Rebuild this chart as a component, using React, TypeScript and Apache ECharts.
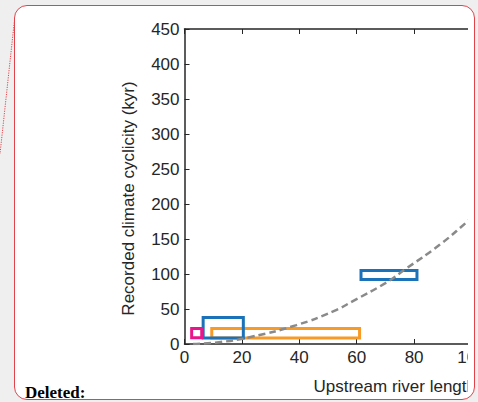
import React, { useEffect, useRef } from "react";
import * as echarts from "echarts";

// Axis settings
const xMin = 0;
const xMax = 160;
const xStep = 20;
const yMin = 0;
const yMax = 450;
const yStep = 50;

// Rectangles (range boxes)
const boxXStart = [9.5, 6.5, 2.5, 61.5];
const boxXEnd = [61, 20.5, 6, 81];
const boxYStart = [8.5, 8.5, 9, 92];
const boxYEnd = [22, 38, 22, 105];
const boxColors = ["#f89a26", "#1c72b8", "#e8168b", "#1c72b8"];

// Dashed trend curve
const curveX = [3, 12, 23, 39, 52, 59, 70, 77, 89, 98, 106];
const curveY = [0, 2.5, 10, 27, 47, 62, 87, 107, 142, 173, 202];

const xName = "Upstream river length (km)";
const yName = "Recorded climate cyclicity (kyr)";

const FONT = "'Liberation Sans', Arial, sans-serif";
const AXIS = "#262626";

function Chart() {
  const ref = useRef<HTMLDivElement>(null);
  useEffect(() => {
    if (!ref.current) return;
    const chart = echarts.init(ref.current, null, { renderer: "svg" });
    const boxData = boxXStart.map((x0, i) => [x0, boxXEnd[i], boxYStart[i], boxYEnd[i], i]);
    const curveData = curveX.map((x, i) => [x, curveY[i]]);
    const plotW = 2.87 * (xMax - xMin);
    chart.setOption({
      animation: false,
      grid: { left: 184.5, top: 29, width: plotW, height: 315, containLabel: false },
      xAxis: [
        {
          type: "value",
          min: xMin,
          max: xMax,
          interval: xStep,
          position: "bottom",
          name: xName,
          nameLocation: "middle",
          nameGap: 34,
          nameTextStyle: { fontSize: 17, fontFamily: FONT, color: AXIS },
          axisLine: { show: true, onZero: false, lineStyle: { color: AXIS, width: 1.5 } },
          axisTick: { show: true, inside: true, length: 5, lineStyle: { color: AXIS, width: 1 } },
          axisLabel: { show: true, margin: 5, fontSize: 17, fontFamily: FONT, color: AXIS },
          splitLine: { show: false },
        },
        {
          type: "value",
          min: xMin,
          max: xMax,
          interval: xStep,
          position: "top",
          axisLine: { show: true, onZero: false, lineStyle: { color: AXIS, width: 1.5 } },
          axisTick: { show: true, inside: true, length: 5, lineStyle: { color: AXIS, width: 1 } },
          axisLabel: { show: false },
          splitLine: { show: false },
        },
      ],
      yAxis: {
        type: "value",
        min: yMin,
        max: yMax,
        interval: yStep,
        name: yName,
        nameLocation: "middle",
        nameGap: 48,
        nameTextStyle: { fontSize: 17, fontFamily: FONT, color: AXIS, padding: [0, 24, 0, 0] },
        axisLine: { show: true, onZero: false, lineStyle: { color: AXIS, width: 1.5 } },
        axisTick: { show: true, inside: true, length: 5, lineStyle: { color: AXIS, width: 1 } },
        axisLabel: { show: true, margin: 5, fontSize: 17, fontFamily: FONT, color: AXIS },
        splitLine: { show: false },
      },
      series: [
        {
          type: "custom",
          xAxisIndex: 0,
          data: boxData,
          encode: { x: [0, 1], y: [2, 3] },
          z: 2,
          renderItem: (params: any, api: any) => {
            const p0 = api.coord([api.value(0), api.value(3)]);
            const p1 = api.coord([api.value(1), api.value(2)]);
            const idx = api.value(4);
            return {
              type: "rect",
              shape: { x: p0[0], y: p0[1], width: p1[0] - p0[0], height: p1[1] - p0[1] },
              style: { fill: "none", stroke: boxColors[idx], lineWidth: 3 },
            };
          },
        },
        {
          type: "line",
          xAxisIndex: 0,
          data: curveData,
          smooth: true,
          symbol: "none",
          z: 3,
          lineStyle: { color: "#8a8a8a", width: 2.5, type: [7, 4] },
        },
      ],
    });
    return () => chart.dispose();
  }, []);
  return <div ref={ref} style={{ width: 700, height: 402 }} />;
}

export default function App() {
  return (
    <div
      style={{
        position: "fixed",
        left: 0,
        top: 0,
        width: 478,
        height: 402,
        background: "#efefef",
        overflow: "hidden",
      }}
    >
      <svg width={478} height={402} style={{ position: "absolute", left: 0, top: 0 }}>
        <line x1={14.5} y1={20} x2={0} y2={154} stroke="#e2434b" strokeWidth={1} strokeDasharray="1.2,1.2" />
      </svg>
      <div
        style={{
          position: "absolute",
          left: 14,
          top: 5,
          width: 461,
          height: 395,
          boxSizing: "border-box",
          border: "1.5px solid #e2434b",
          borderRadius: 13,
          background: "#ffffff",
        }}
      />
      <div
        style={{
          position: "absolute",
          left: 25,
          top: 384,
          fontFamily: "'Liberation Serif', 'Times New Roman', serif",
          fontWeight: "bold",
          fontSize: 17,
          lineHeight: "17px",
          color: "#000",
        }}
      >
        Deleted:
      </div>
      <div style={{ position: "absolute", left: 0, top: 0, width: 468, height: 402, overflow: "hidden" }}>
        <Chart />
      </div>
    </div>
  );
}
